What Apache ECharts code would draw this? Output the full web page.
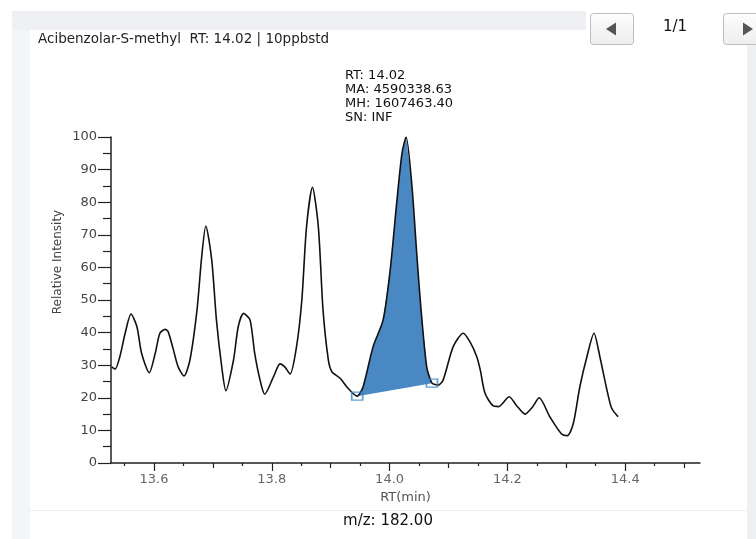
<!DOCTYPE html>
<html>
<head>
<meta charset="utf-8">
<script src="https://cdn.jsdelivr.net/npm/echarts@6/dist/echarts.min.js"></script>
<style>
  html, body { margin: 0; padding: 0; background: #fff; }
  #chart { width: 756px; height: 539px; }
</style>
</head>
<body>
<div id="chart"></div>
<script>
// retention time (min) and relative intensity
const rt = [13.528, 13.534, 13.542, 13.551, 13.561, 13.571, 13.579, 13.592, 13.602, 13.610,
  13.619, 13.624, 13.633, 13.641, 13.651, 13.661, 13.673, 13.681, 13.688, 13.698,
  13.706, 13.715, 13.722, 13.735, 13.743, 13.752, 13.763, 13.771, 13.780, 13.788,
  13.803, 13.814, 13.822, 13.831, 13.842, 13.851, 13.859, 13.869, 13.879, 13.887,
  13.896, 13.902, 13.916, 13.929, 13.945, 13.955, 13.972, 13.989, 14.001, 14.012,
  14.021, 14.028, 14.038, 14.046, 14.053, 14.063, 14.072, 14.083, 14.091, 14.108,
  14.125, 14.137, 14.148, 14.154, 14.162, 14.176, 14.185, 14.203, 14.216, 14.230,
  14.242, 14.254, 14.272, 14.292, 14.302, 14.312, 14.323, 14.335, 14.347, 14.357,
  14.369, 14.377, 14.388];
const intensity = [29.5, 28.8, 32.6, 39.8, 45.7, 41.8, 33.6, 27.7, 33.6, 39.8,
  41.0, 40.3, 34.7, 29.5, 26.7, 31.6, 46.9, 63.3, 72.7, 62.3,
  43.9, 29.5, 22.2, 31.6, 41.8, 45.9, 43.9, 33.6, 25.5, 21.1,
  26.5, 30.4, 29.5, 27.3, 35.7, 50.0, 72.5, 84.6, 72.5, 46.9,
  31.6, 28.0, 26.0, 23.0, 20.5, 23.4, 35.7, 43.9, 59.2, 79.7,
  95.0, 100, 84.8, 64.4, 47.9, 29.5, 24.5, 23.9, 25.5, 35.7,
  39.8, 37.0, 32.6, 28.5, 21.4, 17.5, 17.3, 20.3, 17.5, 15.0,
  17.0, 20.0, 14.2, 8.9, 8.4, 12.2, 23.4, 32.6, 39.8, 32.6,
  22.4, 16.8, 14.2];

// integration baseline (start / end of the peak)
const baselineRt = [13.945, 14.072];
const baselineVal = [20.5, 24.5];

// axis ticks
const labelTicks = [13.6, 13.8, 14.0, 14.2, 14.4];
const midTicks = [13.7, 13.9, 14.1, 14.3, 14.5];
const minorTicks = [13.55, 13.65, 13.75, 13.85, 13.95, 14.05, 14.15, 14.25, 14.35, 14.45];

const titleText = 'Acibenzolar-S-methyl  RT: 14.02 | 10ppbstd';
const peakInfo = ['RT: 14.02', 'MA: 4590338.63', 'MH: 1607463.40', 'SN: INF'];
const mzText = 'm/z: 182.00';
const pageText = '1/1';

const xMin = 13.527, xMax = 14.527;
const font = 'DejaVu Sans';

const curve = rt.map((t, i) => [t, intensity[i]]);
const peakPts = curve.filter(p => p[0] >= baselineRt[0] && p[0] <= baselineRt[1]);
const boxes = baselineRt.map((t, i) => [t, baselineVal[i]]);

function tickAxis(values, len, extra) {
  return Object.assign({
    type: 'value', gridIndex: 0, position: 'bottom', min: xMin, max: xMax,
    axisLine: { show: false },
    axisLabel: { show: false },
    splitLine: { show: false },
    axisTick: { show: true, customValues: values, length: len, lineStyle: { color: '#222', width: 1.2 } }
  }, extra || {});
}

const chart = echarts.init(document.getElementById('chart'));
const option = {
  backgroundColor: '#fff',
  animation: false,
  grid: { left: 111, right: 56, top: 137, bottom: 76 },
  xAxis: [
    tickAxis(labelTicks, 8, {
      axisLine: { show: true, lineStyle: { color: '#222', width: 1.5 } },
      axisLabel: { show: true, customValues: labelTicks, margin: 10, fontFamily: font, fontSize: 13, color: '#666',
        formatter: v => v.toFixed(1) },
      name: 'RT(min)', nameLocation: 'middle', nameGap: 26,
      nameTextStyle: { fontFamily: font, fontSize: 13, color: '#555' }
    }),
    tickAxis(midTicks, 5),
    tickAxis(minorTicks, 3)
  ],
  yAxis: {
    type: 'value', min: 0, max: 100, interval: 10,
    axisLine: { show: true, lineStyle: { color: '#222', width: 1.5 } },
    axisTick: { show: true, length: 13, lineStyle: { color: '#222', width: 1.2 } },
    minorTick: { show: true, splitNumber: 2, length: 8, lineStyle: { color: '#222', width: 1.2 } },
    axisLabel: { margin: 14, fontFamily: font, fontSize: 13, color: '#444' },
    splitLine: { show: false }
  },
  series: [
    {
      type: 'custom', z: 1, silent: true,
      data: [boxes[0]],
      renderItem: (params, api) => ({
        type: 'polygon',
        shape: { points: peakPts.map(p => api.coord(p)) },
        style: { fill: '#4a88c3' }
      })
    },
    {
      type: 'line', z: 2, data: curve, showSymbol: false, smooth: 0.25,
      lineStyle: { color: '#111', width: 1.6 }
    },
    {
      type: 'scatter', z: 3, data: boxes, symbol: 'rect', symbolSize: [11, 8],
      itemStyle: { color: 'rgba(255,255,255,0)', borderColor: '#3d86c6', borderWidth: 1.5 }
    }
  ],
  graphic: [
    // page background pieces
    { type: 'rect', shape: { x: 12, y: 11, width: 574, height: 19 }, style: { fill: '#eef0f3' }, z: -10 },
    { type: 'rect', shape: { x: 12, y: 30, width: 18, height: 509 }, style: { fill: '#f3f5f8' }, z: -10 },
    { type: 'rect', shape: { x: 747, y: 45, width: 9, height: 494 }, style: { fill: '#eef0f3' }, z: -10 },
    { type: 'line', shape: { x1: 30, y1: 510.5, x2: 747, y2: 510.5 }, style: { stroke: '#eceef2', lineWidth: 1 }, z: -9 },
    // pager buttons
    { type: 'rect', shape: { x: 590.5, y: 13.5, width: 43, height: 31, r: 3 },
      style: { fill: new echarts.graphic.LinearGradient(0, 0, 0, 1, [{ offset: 0, color: '#fdfdfd' }, { offset: 1, color: '#eeeeee' }]), stroke: '#bdbdbd', lineWidth: 1 } },
    { type: 'polygon', shape: { points: [[606, 29], [616, 22.5], [616, 35.5]] }, style: { fill: '#555' } },
    { type: 'text', left: 663, top: 20, style: { text: pageText, font: '15px "DejaVu Sans"', fill: '#111' } },
    { type: 'rect', shape: { x: 723.5, y: 13.5, width: 43, height: 31, r: 3 },
      style: { fill: new echarts.graphic.LinearGradient(0, 0, 0, 1, [{ offset: 0, color: '#fdfdfd' }, { offset: 1, color: '#eeeeee' }]), stroke: '#bdbdbd', lineWidth: 1 } },
    { type: 'polygon', shape: { points: [[743, 22.5], [753, 29], [743, 35.5]] }, style: { fill: '#555' } },
    // texts
    { type: 'text', left: 38, top: 32, style: { text: titleText, font: '13.5px "DejaVu Sans"', fill: '#222' } },
    { type: 'text', left: 345, top: 69, style: { text: peakInfo.join('\n'), font: '13px "DejaVu Sans"', lineHeight: 14, fill: '#111' } },
    { type: 'text', x: 58, y: 262, rotation: Math.PI / 2,
      style: { text: 'Relative Intensity', font: '12px "DejaVu Sans"', fill: '#444', align: 'center', verticalAlign: 'middle' } },
    { type: 'text', x: 388, y: 521, style: { text: mzText, font: '15px "DejaVu Sans"', fill: '#111', align: 'center', verticalAlign: 'middle' } }
  ]
};
chart.setOption(option);
window.onresize = function () {
  chart.resize();
};
</script>
</body>
</html>
